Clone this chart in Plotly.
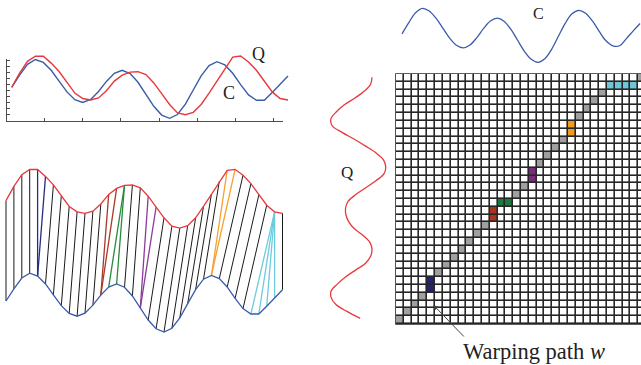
import plotly.graph_objects as go

W, H = 641, 365

# Two time series of 36 samples (value units: one y-tick of the small frame = 1)
Q = [5.57, 7.95, 9.9, 10.75, 10.75, 9.6, 8.2, 6.4, 4.6, 3.7, 3.45, 3.8,
     5.0, 6.6, 7.6, 8.1, 8.17, 7.7, 6.3, 4.5, 2.7, 1.3, 1.0, 1.4,
     2.7, 4.6, 6.6, 8.8, 10.6, 10.78, 9.8, 8.4, 6.5, 4.8, 3.7, 3.45]
C = [5.57, 7.6, 9.4, 10.2, 9.72, 8.41, 6.6, 4.8, 3.5, 3.03, 3.54, 4.88,
     6.55, 7.89, 8.4, 7.86, 6.4, 4.4, 2.4, 0.94, 0.4, 1.03, 2.76, 5.12,
     7.47, 9.2, 9.83, 9.3, 7.9, 6.0, 4.3, 3.4, 3.4, 4.7, 6.1, 7.45]

# Warping path through the 32 x 32 cost matrix (row = Q index, col = C index)
cell_rows = [0, 1, 2, 3, 4, 5, 6, 7, 8, 9, 10, 11, 12, 13, 14, 15, 15, 16, 17,
             18, 19, 20, 21, 22, 23, 24, 25, 26, 27, 28, 29, 30, 30, 30, 30, 31]
cell_cols = [0, 1, 2, 3, 4, 4, 5, 6, 7, 8, 9, 10, 11, 12, 12, 13, 14, 15, 16,
             17, 17, 18, 19, 20, 21, 22, 22, 23, 24, 25, 26, 27, 28, 29, 30, 31]
cell_group = ["path"] * 4 + ["navy"] * 2 + ["path"] * 7 + ["red"] * 2 + ["green"] * 2 \
    + ["path"] * 2 + ["purple"] * 2 + ["path"] * 4 + ["orange"] * 2 + ["path"] * 4 \
    + ["cyan"] * 4 + ["path"]

# Point-to-point alignment between Q and C
link_q = [0, 1, 2, 3, 4, 5, 6, 7, 8, 9, 10, 11, 12, 13, 14, 15, 15, 16, 17, 18, 19,
          20, 21, 22, 23, 24, 25, 26, 27, 28, 29, 30, 31, 32, 33, 34, 34, 34, 34, 35]
link_c = [0, 1, 2, 3, 4, 4, 5, 6, 7, 8, 9, 10, 11, 12, 12, 13, 14, 15, 16, 17, 17,
          18, 19, 20, 21, 22, 23, 24, 25, 26, 26, 27, 28, 29, 30, 31, 32, 33, 34, 35]
link_group = ["path"] * 4 + ["navy"] * 2 + ["path"] * 7 + ["red"] * 2 + ["green"] * 2 \
    + ["path"] * 2 + ["purple"] * 2 + ["path"] * 8 + ["orange"] * 2 + ["path"] * 4 \
    + ["cyan"] * 4 + ["path"]

N_CELLS = 32
Q_OFFSET = 16.73  # vertical lift of Q above C in the alignment panel

RED = "#e8383d"
BLUE = "#3a5ca8"
CELL_COLORS = {"empty": "#ffffff", "path": "#a0a0a0", "navy": "#24246e", "red": "#a8361f",
               "green": "#1e7a3c", "purple": "#7b2a7e", "orange": "#f39c1c", "cyan": "#6ec6d6"}
LINK_COLORS = {"path": "#1a1a1a", "navy": "#2a2a80", "red": "#a83a28", "green": "#2a8a40",
               "purple": "#8a3a9a", "orange": "#f5a030", "cyan": "#6ccbdc"}
FONT = "Liberation Serif"


def lin(p, p0, v0, p1, v1):
    return v0 + (p - p0) * (v1 - v0) / (p1 - p0)


def xspan(p0, v0, p1, v1, d0, d1):
    return dict(domain=[d0 / W, d1 / W],
                range=[lin(d0, p0, v0, p1, v1), lin(d1, p0, v0, p1, v1)])


def yspan(p0, v0, p1, v1, top, bottom):
    return dict(domain=[1 - bottom / H, 1 - top / H],
                range=[lin(bottom, p0, v0, p1, v1), lin(top, p0, v0, p1, v1)])


hidden = dict(visible=False, showgrid=False, zeroline=False, fixedrange=True)
idx = list(range(len(Q)))

fig = go.Figure()

# frame of the overlay chart (axes only)
fig.add_trace(go.Scatter(x=[None], y=[None], xaxis="x", yaxis="y", hoverinfo="skip"))

# overlay chart: Q and C on the same axes
fig.add_trace(go.Scatter(x=idx, y=C, xaxis="x2", yaxis="y2", mode="lines",
                         line=dict(color=BLUE, width=1.4)))
fig.add_trace(go.Scatter(x=idx, y=Q, xaxis="x2", yaxis="y2", mode="lines",
                         line=dict(color=RED, width=1.4)))

# alignment panel: links first, then the two series on top
for grp in ["path", "navy", "red", "green", "purple", "orange", "cyan"]:
    xs, ys = [], []
    for q, c, g in zip(link_q, link_c, link_group):
        if g == grp:
            xs += [q, c, None]
            ys += [Q[q] + Q_OFFSET, C[c], None]
    fig.add_trace(go.Scatter(x=xs, y=ys, xaxis="x3", yaxis="y3", mode="lines",
                             line=dict(color=LINK_COLORS[grp], width=1.0 if grp == "path" else 1.3)))
fig.add_trace(go.Scatter(x=idx, y=[v + Q_OFFSET for v in Q], xaxis="x3", yaxis="y3",
                         mode="lines", line=dict(color=RED, width=1.3)))
fig.add_trace(go.Scatter(x=idx, y=C, xaxis="x3", yaxis="y3", mode="lines",
                         line=dict(color=BLUE, width=1.3)))

# C drawn along the top of the matrix
fig.add_trace(go.Scatter(x=idx, y=C, xaxis="x4", yaxis="y4", mode="lines",
                         line=dict(color=BLUE, width=1.3, shape="spline", smoothing=1)))
# Q drawn along the left side of the matrix
fig.add_trace(go.Scatter(x=Q, y=idx, xaxis="x5", yaxis="y5", mode="lines",
                         line=dict(color=RED, width=1.3, shape="spline", smoothing=1)))

# cost matrix with the warping path
codes = list(CELL_COLORS.keys())
z = [[0] * N_CELLS for _ in range(N_CELLS)]
for r, c, g in zip(cell_rows, cell_cols, cell_group):
    z[r][c] = codes.index(g)
ncol = len(codes)
scale = []
for k, name in enumerate(codes):
    scale += [[k / ncol, CELL_COLORS[name]], [(k + 1) / ncol, CELL_COLORS[name]]]
fig.add_trace(go.Heatmap(z=z, x=list(range(N_CELLS)), y=list(range(N_CELLS)),
                         xaxis="x6", yaxis="y6", colorscale=scale, zmin=-0.5, zmax=ncol - 0.5,
                         showscale=False, xgap=1.6, ygap=1.6, hoverinfo="skip"))

frame_line = dict(showline=True, linecolor="#4d4d4d", linewidth=1.2, ticks="inside", ticklen=3,
                  tickcolor="#4d4d4d", tickwidth=1, showticklabels=False, showgrid=False,
                  zeroline=False, fixedrange=True)

fig.update_layout(
    width=W, height=H, margin=dict(l=0, r=0, t=0, b=0),
    paper_bgcolor="white", plot_bgcolor="rgba(0,0,0,0)", showlegend=False,
    xaxis=dict(**xspan(6.5, 0, 44.65, 1, 6.5, 283), anchor="y",
               tickvals=[1, 2, 3, 4, 5, 6, 7], **frame_line),
    yaxis=dict(**yspan(120.7, 0, 60.7, 10, 59.2, 120.7), anchor="x",
               tickvals=[1, 2, 3, 4, 5, 6, 7, 8, 9, 10], **frame_line),
    xaxis2=dict(**xspan(11.7, 0, 288, 35, 3, 298), anchor="y2", **hidden),
    yaxis2=dict(**yspan(120.7, 0, 60.7, 10, 40, 130), anchor="x2", **hidden),
    xaxis3=dict(**xspan(6, 0, 282.5, 35, 1, 292), anchor="y3", **hidden),
    yaxis3=dict(**yspan(334.4, 0, 274.4, 10, 150, 345), anchor="x3", **hidden),
    xaxis4=dict(**xspan(402, 0, 640, 35, 396, 641), anchor="y4", **hidden),
    yaxis4=dict(**yspan(64.5, 0, 9.4, 10, 0, 72), anchor="x4", **hidden),
    xaxis5=dict(**xspan(331, 10.78, 386, 0.95, 318, 395), anchor="y5", **hidden),
    yaxis5=dict(**yspan(318.3, 0, 77.3, 35, 70, 326), anchor="x5", **hidden),
    xaxis6=dict(**xspan(396, -0.5, 646, 31.5, 396, 641), anchor="y6", **hidden),
    yaxis6=dict(**yspan(324, -0.5, 74, 31.5, 74, 324), anchor="x6", **hidden),
    shapes=[dict(type="rect", xref="paper", yref="paper", layer="below",
                 x0=395.2 / W, x1=1, y0=1 - 324.8 / H, y1=1 - 73.2 / H,
                 fillcolor="#262626", line=dict(width=0))],
)


def label(text, px, py, size, xanchor="center"):
    fig.add_annotation(text=text, x=px / W, y=1 - py / H, xref="paper", yref="paper",
                       xanchor=xanchor, yanchor="middle", showarrow=False,
                       font=dict(family=FONT, size=size, color="#222"))


label("Q", 258, 54, 18)
label("C", 229, 93, 18)
label("C", 538, 14, 16)
label("Q", 347, 173, 17)
label("Warping path <i>w</i>", 461, 351, 22.5, xanchor="left")

# arrow pointing at the path
fig.add_annotation(x=433.3 / W, y=1 - 305 / H, xref="paper", yref="paper", text="",
                   showarrow=True, ax=32, ay=33, arrowhead=2, arrowsize=1, arrowwidth=1,
                   arrowcolor="#444")

fig.write_html("out.html", config={"displayModeBar": False})
